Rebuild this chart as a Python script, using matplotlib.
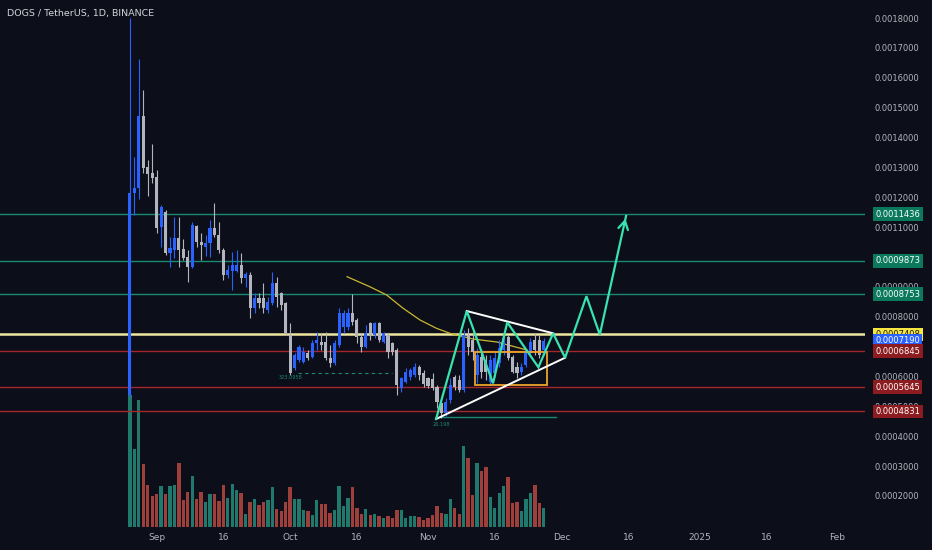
import numpy as np
import pandas as pd
import matplotlib
matplotlib.use("Agg")
import matplotlib.pyplot as plt
import matplotlib.transforms as mtransforms
from matplotlib.patches import Rectangle

# daily candles DOGS/USDT (prices in 1e-7 USDT), first day 2024-08-26
start = pd.Timestamp("2024-08-26")
opens = [5378, 12141, 12308, 14719, 13012, 12811, 12677, 11003, 11505, 10132,
         10233, 10634, 10266, 9998, 9663, 11036, 10500, 10333, 10467, 10969,
         10735, 10233, 9396, 9530, 9530, 9730, 9296, 9396, 8291, 8626,
         8626, 8224, 8458, 9128, 8793, 8458, 7387, 6282, 6550, 6483,
         6784, 6650, 7119, 7152, 7152, 6617, 6449, 7052, 7655, 7655,
         8123, 7889, 7320, 6985, 7789, 7387, 7789, 7152, 7387, 7119,
         6885, 5612, 5813, 5981, 6048, 6315, 6115, 5947, 5914, 5646,
         5110, 4775, 5211, 5981, 5880, 5545, 7387, 7219, 6048, 6650,
         6550, 5813, 6115, 6449, 6885, 7320, 6650, 6315, 6148, 6382,
         6784, 7219, 7219, 6885]
highs = [18000, 13346, 16627, 15589, 13246, 13782, 12911, 11739, 11572, 10668,
         11337, 11337, 10601, 10233, 11170, 11070, 10802, 10735, 11237, 11806,
         11170, 10300, 9730, 10166, 10233, 10132, 9496, 9496, 8793, 8793,
         9128, 8659, 9496, 9329, 8826, 8492, 7789, 6784, 7052, 6985,
         6885, 7219, 7487, 7454, 7487, 7052, 7219, 8291, 8224, 8291,
         8759, 7956, 7454, 7722, 7822, 7822, 7822, 7487, 7454, 7152,
         6952, 5981, 6282, 6282, 6449, 6382, 6215, 5981, 6115, 5713,
         5211, 5278, 5947, 6048, 6048, 7554, 7621, 7487, 6952, 6885,
         6717, 6717, 6818, 7219, 7454, 7387, 6717, 6483, 6449, 6885,
         7286, 7454, 7387, 7286]
lows = [5300, 11404, 11940, 12811, 12041, 12476, 10802, 10333, 10065, 9663,
        9965, 9663, 9898, 9161, 9630, 10333, 9898, 10032, 9998, 10668,
        10132, 9228, 9296, 8893, 9496, 9128, 8993, 7956, 8123, 8291,
        8123, 8123, 8391, 8324, 8224, 7387, 6048, 6215, 6483, 6449,
        6550, 6617, 6885, 6885, 6550, 6315, 6382, 6985, 7454, 7554,
        7722, 7119, 6818, 6952, 7219, 7286, 7152, 7119, 6617, 6717,
        5378, 5479, 5780, 5880, 5981, 5880, 5646, 5612, 5545, 4943,
        4608, 4675, 5110, 5545, 5479, 5479, 6717, 6550, 5780, 5947,
        5880, 5713, 5981, 6315, 6717, 6550, 6115, 5947, 6048, 6315,
        6650, 6717, 6617, 6717]
closes = [12141, 12308, 14719, 12978, 12777, 12643, 10969, 11672, 10132, 10300,
          10634, 10233, 9965, 9663, 11070, 10500, 10400, 10467, 10969, 10735,
          10233, 9396, 9563, 9730, 9730, 9296, 9429, 8291, 8626, 8458,
          8291, 8492, 9128, 8659, 8391, 7454, 6115, 6717, 6985, 6818,
          6617, 7119, 7219, 7052, 6617, 6449, 7119, 8123, 8123, 8123,
          7822, 7320, 6985, 7454, 7387, 7789, 7219, 7454, 6818, 6818,
          5713, 5947, 6148, 6215, 6315, 6048, 5746, 5679, 5612, 5144,
          4775, 5144, 5713, 5646, 5545, 7387, 6985, 6818, 6717, 6148,
          6148, 6550, 6617, 6952, 7286, 6617, 6148, 6115, 6315, 6784,
          7152, 6885, 6717, 7190]
volumes = [131.7, 78.4, 127.4, 63.4, 41.7, 30.7, 32.7, 40.7, 33.4, 41.4,
           42.0, 64.0, 26.7, 34.7, 50.7, 27.7, 34.7, 24.7, 33.4, 32.7,
           26.0, 42.4, 29.0, 42.7, 37.4, 34.0, 13.4, 25.0, 28.4, 22.4,
           25.0, 26.7, 39.7, 18.4, 15.7, 25.0, 39.7, 27.7, 27.7, 17.4,
           15.7, 11.7, 26.7, 23.4, 23.4, 14.0, 16.7, 40.7, 20.7, 29.4,
           39.7, 18.7, 13.4, 17.7, 11.7, 13.4, 10.7, 9.4, 10.7, 9.4,
           17.4, 16.7, 9.0, 10.7, 11.4, 10.0, 7.4, 9.0, 11.7, 21.4,
           14.0, 13.4, 27.7, 18.7, 12.7, 81.0, 68.7, 32.4, 64.0, 56.0,
           60.0, 30.0, 18.7, 34.0, 41.4, 50.0, 24.0, 24.7, 16.0, 27.7,
           34.0, 42.0, 24.4, 18.7]

# horizontal levels
green_levels = [0.0011436, 0.0009873, 0.0008753]
yellow_level = 0.0007408
red_levels = [0.0006845, 0.0005645, 0.0004831]
last_price = 0.0007190

# price scale ticks (0.0010 and 0.0007 sit under the tags)
price_ticks = [0.0002, 0.0003, 0.0004, 0.0005, 0.0006, 0.0008, 0.0009,
               0.0011, 0.0012, 0.0013, 0.0014, 0.0015, 0.0016, 0.0017, 0.0018]

# drawings (day offset, price 1e-7)
zigzag_days = [68.8, 75.7, 81.6, 84.8, 91.8, 95.1, 97.8, 102.6, 105.6, 111.5]
zigzag_prices = [4574, 8190, 5770, 7812, 6306, 7444, 6627, 8686, 7397, 11371]
tri_upper = [(75.7, 8190), (95.1, 7444)]
tri_lower = [(68.8, 4574), (97.8, 6627)]
box_days = (77.5, 93.8)
box_prices = (5713, 6808)
base_line = [(68.8, 4652), (95.7, 4652)]
dash_line = [(37.8, 6115), (58.8, 6115)]
ma_days = [48.8, 53.9, 57.7, 61.4, 65.2, 68.9, 71.9, 77.1, 82.5, 89.2]
ma_prices = [9339, 9004, 8726, 8281, 7889, 7611, 7444, 7253, 7152, 6885]

tick_dates = ["2024-09-01", "2024-09-16", "2024-10-01", "2024-10-16", "2024-11-01",
              "2024-11-16", "2024-12-01", "2024-12-16", "2025-01-01", "2025-01-16",
              "2025-02-01"]
tick_names = ["Sep", "16", "Oct", "16", "Nov", "16", "Dec", "16", "2025", "16", "Feb"]

# colours
bg = "#0c0e19"
txt = "#b2b5be"
up_c = "#2962ff"
dn_c = "#b2b5be"
teal_line = "#1b8a73"
teal_box = "#0b7a5c"
red_line = "#a3262c"
red_box = "#8c1c1f"
yel_line = "#efe6a0"
mint = "#38e3b0"

S = 1e-7
o = np.array(opens) * S
h = np.array(highs) * S
l = np.array(lows) * S
c = np.array(closes) * S
day = np.arange(len(o))
up = c >= o

W, H = 932, 550
fig = plt.figure(figsize=(W / 100, H / 100), dpi=100, facecolor=bg)
pos = [0, 1 - 527 / H, 865 / W, 527 / H]
xlim = (-29.2, 165.2)

# volume underneath
axv = fig.add_axes(pos)
axv.set_facecolor(bg)
vol_cols = np.where(up, "#1f7a6d", "#9e3f3b")
axv.bar(day, volumes, width=0.75, color=vol_cols, linewidth=0)
axv.set_xlim(xlim)
axv.set_ylim(0, max(volumes) * 4.0)
axv.axis("off")

ax = fig.add_axes(pos)
ax.patch.set_alpha(0)
ax.set_xlim(xlim)
ax.set_ylim(0.0000959, 0.0018603)
for s in ax.spines.values():
    s.set_visible(False)

# level lines
for lv in green_levels:
    ax.axhline(lv, color=teal_line, lw=1.0, zorder=1)
for lv in red_levels:
    ax.axhline(lv, color=red_line, lw=1.0, zorder=1)
ax.axhline(yellow_level, color=yel_line, lw=1.8, zorder=1)

# candles
cols = np.where(up, up_c, dn_c)
ax.vlines(day, l, h, colors=cols, lw=0.8, zorder=3)
body_lo = np.minimum(o, c)
body_h = np.maximum(np.abs(c - o), 0.000002)
ax.bar(day, body_h, bottom=body_lo, width=0.7, color=cols, linewidth=0, zorder=3)

# moving average curve
ax.plot(ma_days, np.array(ma_prices) * S, color="#cbb82e", lw=0.9, zorder=2)

# dashed line + small labels
ax.plot([p[0] for p in dash_line], [p[1] * S for p in dash_line], color=teal_line,
        lw=0.8, ls=(0, (3, 3)), zorder=2)
ax.text(33.5, 5900 * S, "323.0958", color="#1b8a73", fontsize=3.6, zorder=4)
ax.text(68.0, 4330 * S, "26.198", color="#1b8a73", fontsize=3.6, zorder=4)
ax.plot([p[0] for p in base_line], [p[1] * S for p in base_line], color=teal_line,
        lw=1.0, zorder=2)

# triangle, box, projection
ax.plot([p[0] for p in tri_upper], [p[1] * S for p in tri_upper], color="white", lw=1.4, zorder=5)
ax.plot([p[0] for p in tri_lower], [p[1] * S for p in tri_lower], color="white", lw=1.4, zorder=5)
ax.add_patch(Rectangle((box_days[0], box_prices[0] * S), box_days[1] - box_days[0],
                       (box_prices[1] - box_prices[0]) * S, fill=False,
                       ec="#f0a52a", lw=1.3, zorder=4))
ax.plot(zigzag_days, np.array(zigzag_prices) * S, color=mint, lw=1.6, zorder=6,
        solid_joinstyle="miter")
ax.annotate("", xy=(zigzag_days[-1], zigzag_prices[-1] * S),
            xytext=(zigzag_days[-2] + 0.9 * (zigzag_days[-1] - zigzag_days[-2]),
                    (zigzag_prices[-2] + 0.9 * (zigzag_prices[-1] - zigzag_prices[-2])) * S),
            arrowprops=dict(arrowstyle="->,head_length=0.6,head_width=0.35", color=mint, lw=1.6),
            zorder=6)

# axes ticks
ax.yaxis.tick_right()
ax.set_yticks(price_ticks)
ax.set_yticklabels([f"{v:.7f}" for v in price_ticks])
tick_pos = [(pd.Timestamp(d) - start).days for d in tick_dates]
ax.set_xticks(tick_pos)
ax.set_xticklabels(tick_names)
ax.tick_params(axis="y", length=0, pad=7, labelsize=6, labelcolor=txt)
ax.tick_params(axis="x", length=0, pad=4, labelsize=6.5, labelcolor=txt)

# price scale labels
tr = mtransforms.blended_transform_factory(ax.transAxes, ax.transData)
def price_tag(v, fc, tc="white"):
    ax.text(1.012, v, f"{v:.7f}", transform=tr, fontsize=6, color=tc, ha="left", va="center",
            bbox=dict(boxstyle="square,pad=0.28", fc=fc, ec="none"), clip_on=False, zorder=10)

for lv in green_levels:
    price_tag(lv, teal_box)
price_tag(yellow_level, "#f5e642", "#1a1a1a")
price_tag(last_price, up_c)
for lv in red_levels:
    price_tag(lv, red_box)

fig.text(7 / W, 1 - 13.5 / H, "DOGS / TetherUS, 1D, BINANCE", color="#d1d4dc",
         fontsize=6.8, va="center", ha="left")

fig.savefig("out.png", dpi=100, facecolor=bg)
